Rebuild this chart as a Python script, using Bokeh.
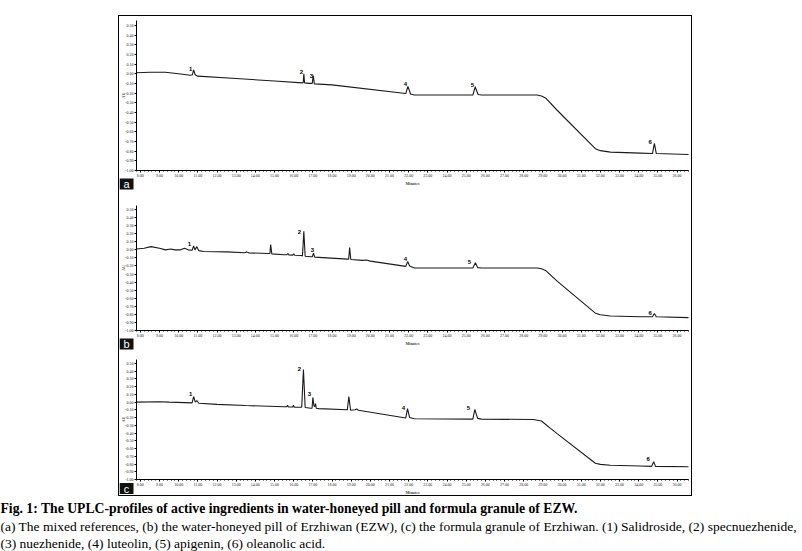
import math
from bokeh.plotting import figure
from bokeh.layouts import column
from bokeh.models import (Range1d, SingleIntervalTicker, FixedTicker, PrintfTickFormatter,
                          Label, BoxAnnotation)
from bokeh.embed import file_html
from bokeh.resources import INLINE
from bokeh.core.properties import value

# ---------------- data ----------------
peak_ids = ["1", "2", "3", "4", "5", "6"]

# (a) mixed references
a_time = [7.8, 8.5, 9.3, 10.0, 10.6, 10.72, 10.78, 10.86, 11.0, 13.0,
          15.0, 16.45, 16.5, 16.53, 16.57, 16.8, 16.97, 17.02, 17.08, 18.0,
          21.85, 21.96, 22.1, 22.3, 25.35, 25.47, 25.62, 25.8, 28.7, 28.93,
          29.14, 29.76, 31.74, 32.0, 32.53, 34.09, 34.72, 34.82, 34.92, 36.6]
a_au = [0.01, 0.015, 0.015, 0.0, -0.015, -0.01, 0.04, -0.01, -0.025, -0.05,
        -0.075, -0.095, -0.09, 0.0, -0.095, -0.1, -0.1, -0.02, -0.105, -0.115,
        -0.205, -0.13, -0.21, -0.22, -0.22, -0.135, -0.215, -0.22, -0.22, -0.23,
        -0.25, -0.38, -0.775, -0.795, -0.81, -0.82, -0.825, -0.72, -0.825, -0.835]
a_label_time = [10.62, 16.4, 16.93, 21.83, 25.33, 34.6]
a_label_au = [0.054, 0.02, -0.02, -0.11, -0.12, -0.71]

# (b) water-honeyed pill
b_time = [7.8, 8.2, 8.55, 9.0, 9.3, 9.6, 9.8, 10.1, 10.3, 10.5,
          10.7, 10.78, 10.85, 10.95, 11.05, 11.3, 12.5, 13.45, 13.55, 13.65,
          14.7, 14.76, 14.8, 14.86, 15.5, 15.65, 15.7, 15.75, 15.95, 16.0,
          16.05, 16.4, 16.46, 16.53, 16.6, 16.9, 16.98, 17.03, 17.1, 18.8,
          18.87, 18.92, 18.98, 19.6, 19.8, 20.0, 21.85, 21.95, 22.05, 22.3,
          25.35, 25.48, 25.6, 25.8, 28.7, 28.93, 29.14, 29.76, 31.74, 32.0,
          32.53, 34.09, 34.72, 34.82, 34.92, 36.6]
b_au = [0.01, 0.02, 0.04, 0.02, 0.0, 0.01, 0.0, 0.0, 0.02, 0.0,
        -0.005, 0.05, 0.0, 0.04, -0.01, -0.02, -0.025, -0.035, -0.025, -0.037,
        -0.045, -0.045, 0.065, -0.05, -0.06, -0.06, -0.045, -0.062, -0.065, -0.05,
        -0.066, -0.07, -0.075, 0.23, -0.08, -0.085, -0.085, -0.04, -0.09, -0.115,
        -0.115, 0.03, -0.12, -0.13, -0.125, -0.14, -0.205, -0.145, -0.2, -0.225,
        -0.225, -0.16, -0.22, -0.225, -0.225, -0.235, -0.255, -0.39, -0.785, -0.805,
        -0.82, -0.83, -0.83, -0.79, -0.83, -0.84]
b_label_time = [10.56, 16.3, 16.98, 21.83, 25.17, 34.6]
b_label_au = [0.078, 0.227, 0.004, -0.108, -0.145, -0.78]

# (c) formula granule
c_time = [7.8, 9.0, 9.5, 10.7, 10.78, 10.87, 10.95, 11.05, 12.0, 13.5,
          15.5, 15.64, 15.68, 15.72, 15.95, 15.99, 16.03, 16.42, 16.51, 16.6,
          16.9, 16.96, 17.0, 17.06, 17.1, 17.14, 17.18, 17.3, 18.8, 18.88,
          18.97, 19.2, 19.28, 19.38, 21.85, 21.94, 22.05, 22.3, 25.35, 25.45,
          25.6, 25.8, 28.5, 28.93, 29.4, 29.76, 31.74, 32.0, 32.53, 34.09,
          34.68, 34.78, 34.88, 36.6]
c_au = [0.0, 0.005, 0.0, -0.01, 0.072, 0.0, 0.02, -0.015, -0.03, -0.045,
        -0.06, -0.06, -0.04, -0.062, -0.064, -0.042, -0.066, -0.065, 0.42, -0.07,
        -0.08, -0.08, 0.06, -0.05, -0.06, -0.02, -0.08, -0.085, -0.1, 0.072,
        -0.105, -0.1, -0.09, -0.105, -0.205, -0.083, -0.2, -0.215, -0.22, -0.096,
        -0.21, -0.22, -0.225, -0.245, -0.34, -0.41, -0.79, -0.805, -0.815, -0.825,
        -0.83, -0.77, -0.83, -0.835]
c_label_time = [10.62, 16.3, 16.82, 21.73, 25.12, 34.5]
c_label_au = [0.11, 0.43, 0.1, -0.08, -0.07, -0.74]

time_start, time_end = 7.8, 36.6
au_min, au_max = -1.0, 0.55
y_ticks = [0.50, 0.40, 0.30, 0.20, 0.10, 0.00, -0.10, -0.20, -0.30, -0.40,
           -0.50, -0.60, -0.70, -0.80, -0.90, -1.00]

caption_lines = [
    "Fig. 1: The UPLC-profiles of active ingredients in water-honeyed pill and formula granule of EZW.",
    "(a) The mixed references, (b) the water-honeyed pill of Erzhiwan (EZW), (c) the formula granule of Erzhiwan. (1) Salidroside, (2) specnuezhenide,",
    "(3) nuezhenide, (4) luteolin, (5) apigenin, (6) oleanolic acid.",
]

AXIS_FONT = "Liberation Sans Narrow"
FIG_W = 572          # inside the outer border
PAD_L, PAD_R = 17, 3  # room for the y tick labels / right margin


def panel(time, au, lab_t, lab_au, letter, fig_h, pad_top, plot_h, box_bottom):
    pad_bottom = fig_h - pad_top - plot_h
    ppm = (FIG_W - PAD_L - PAD_R) / (time_end - time_start)
    ppu = plot_h / (au_max - au_min)
    xr = Range1d(time_start - PAD_L / ppm, time_end + PAD_R / ppm)
    yr = Range1d(au_min - pad_bottom / ppu, au_max + pad_top / ppu)
    p = figure(width=FIG_W, height=fig_h, x_range=xr, y_range=yr,
               output_backend="svg", toolbar_location=None, min_border=0)
    p.grid.visible = False
    p.outline_line_color = None
    p.background_fill_color = "white"
    p.border_fill_color = "white"

    p.line(time, au, line_color="#1a1a1a", line_width=1.1)
    p.text(x=lab_t, y=lab_au, text=peak_ids, text_font=value("Liberation Sans"),
           text_font_size="6px", text_font_style="bold", text_color="black",
           text_align="center", text_baseline="middle")

    xa = p.xaxis[0]
    xa.fixed_location = au_min
    xa.bounds = (time_start, time_end)
    xa.ticker = SingleIntervalTicker(interval=1, num_minor_ticks=5)
    xa.formatter = PrintfTickFormatter(format="%.2f")
    xa.axis_label = "Minutes"
    ya = p.yaxis[0]
    ya.fixed_location = time_start
    ya.bounds = (au_min, au_max)
    ya.ticker = FixedTicker(ticks=y_ticks)
    ya.formatter = PrintfTickFormatter(format="%.2f")
    for ax in (xa, ya):
        ax.major_label_text_font = AXIS_FONT
        ax.major_label_text_font_size = "4px"
        ax.major_label_text_color = "#222222"
        ax.axis_label_text_font = AXIS_FONT
        ax.axis_label_text_font_size = "4px"
        ax.axis_label_text_font_style = "bold"
        ax.axis_label_standoff = 1
        ax.major_label_standoff = 1
        ax.major_tick_in = 0
        ax.major_tick_out = 2
        ax.minor_tick_in = 0
        ax.minor_tick_out = 1
        ax.axis_line_color = "black"
        ax.major_tick_line_color = "black"
        ax.minor_tick_line_color = "black"

    # y-axis title, left of the tick labels
    p.add_layout(Label(x=4, y=pad_bottom + plot_h / 2, x_units="screen", y_units="screen",
                       text="AU", angle=math.pi / 2, text_font=AXIS_FONT,
                       text_font_size="4px", text_font_style="bold",
                       text_align="center", text_baseline="middle"))
    # panel letter in a black box
    p.add_layout(BoxAnnotation(left=0, right=14, bottom=box_bottom, top=box_bottom + 11,
                               left_units="screen", right_units="screen",
                               bottom_units="screen", top_units="screen",
                               fill_color="#111111", fill_alpha=1.0,
                               line_color=None))
    p.add_layout(Label(x=7, y=box_bottom + 5.5, x_units="screen", y_units="screen",
                       text=letter, text_color="white",
                       text_font="Liberation Sans", text_font_size="11px",
                       text_align="center", text_baseline="middle"))
    return p


pa = panel(a_time, a_au, a_label_time, a_label_au, "a", 174, 4, 150, 1)
pb = panel(b_time, b_au, b_label_time, b_label_au, "b", 160, 15, 125, 1)
pc = panel(c_time, c_au, c_label_time, c_label_au, "c", 145, 9, 120, 1.5)

frame = column(pa, pb, pc, spacing=0, margin=(15, 0, 0, 118),
               styles={"border": "1px solid black"})

cap = figure(width=802, height=54, x_range=Range1d(0, 802), y_range=Range1d(54, 0),
             output_backend="svg", toolbar_location=None, min_border=0,
             margin=(1, 0, 0, 0))
cap.axis.visible = False
cap.grid.visible = False
cap.outline_line_color = None
cap.text(x=[0], y=[11], text=[caption_lines[0]], text_font=value("Liberation Serif"),
         text_font_size="13.7px", text_font_style="bold", text_color="black",
         text_baseline="middle", text_align="left")
cap.text(x=[0, 0], y=[29, 46], text=caption_lines[1:], text_font=value("Liberation Serif"),
         text_font_size="13.5px", text_font_style="normal", text_color="black",
         text_baseline="middle", text_align="left")

root = column(frame, cap, spacing=0)
open("out.html", "w").write(file_html(root, INLINE))
